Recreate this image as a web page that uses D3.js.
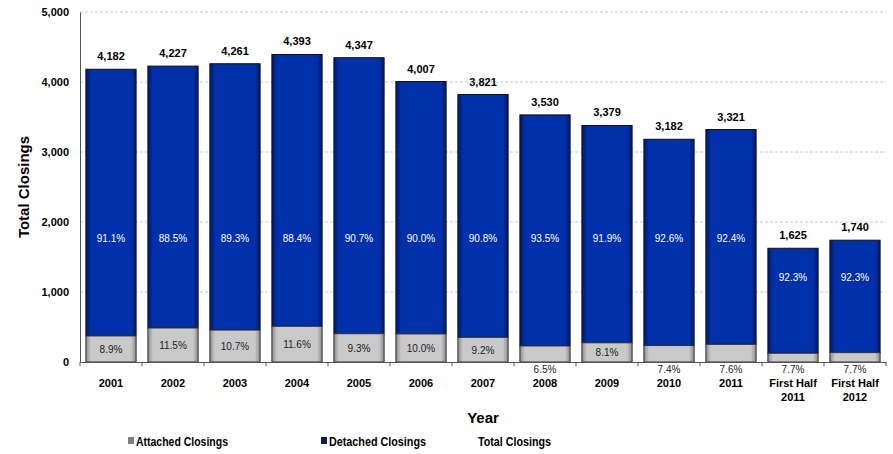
<!DOCTYPE html>
<html>
<head>
<meta charset="utf-8">
<script src="https://cdn.jsdelivr.net/npm/d3@7/dist/d3.min.js"></script>
<style>
  html, body { margin: 0; padding: 0; background: #fff; }
  svg text { font-family: "Liberation Sans", Arial, sans-serif; }
</style>
</head>
<body>
<svg id="chart" width="893" height="454"></svg>
<script>
// Closings by year: totals, attached counts and share labels
const categories = ["2001","2002","2003","2004","2005","2006","2007","2008","2009","2010","2011","First Half\n2011","First Half\n2012"];
const totalClosings = [4182, 4227, 4261, 4393, 4347, 4007, 3821, 3530, 3379, 3182, 3321, 1625, 1740];
const attachedClosings = [372, 486, 456, 510, 404, 401, 352, 229, 274, 235, 252, 125, 134];
const attachedShare = ["8.9%","11.5%","10.7%","11.6%","9.3%","10.0%","9.2%","6.5%","8.1%","7.4%","7.6%","7.7%","7.7%"];
const detachedShare = ["91.1%","88.5%","89.3%","88.4%","90.7%","90.0%","90.8%","93.5%","91.9%","92.6%","92.4%","92.3%","92.3%"];
const yTicks = [0, 1000, 2000, 3000, 4000, 5000];

const rows = categories.map((c, i) => ({
  cat: c,
  total: totalClosings[i],
  attached: attachedClosings[i],
  detached: totalClosings[i] - attachedClosings[i],
  aShare: attachedShare[i],
  dShare: detachedShare[i]
}));

const svg = d3.select("#chart");
const plotLeft = 80, plotRight = 886, plotTop = 12, plotBottom = 362;

const x = d3.scaleBand().domain(categories).range([plotLeft, plotRight]).paddingInner(0.19).paddingOuter(0.095);
const y = d3.scaleLinear().domain([0, 5000]).range([plotBottom, plotTop]);

// gradients giving the bars their shaded edges
const defs = svg.append("defs");
function edgeGradient(id, edge, mid) {
  const g = defs.append("linearGradient").attr("id", id).attr("x1", "0").attr("x2", "1").attr("y1", "0").attr("y2", "0");
  g.append("stop").attr("offset", "0").attr("stop-color", edge);
  g.append("stop").attr("offset", "0.1").attr("stop-color", mid);
  g.append("stop").attr("offset", "0.9").attr("stop-color", mid);
  g.append("stop").attr("offset", "1").attr("stop-color", edge);
}
edgeGradient("gBlue", "#001a6e", "#0030aa");
edgeGradient("gGrey", "#8a8a8a", "#c9c9c9");

// gridlines
svg.append("g").selectAll("line").data(yTicks.filter(t => t > 0)).join("line")
  .attr("x1", plotLeft).attr("x2", plotRight)
  .attr("y1", d => y(d)).attr("y2", d => y(d))
  .attr("stroke", "#c8c8c8").attr("stroke-dasharray", "3,2").attr("stroke-width", 1);

// y axis
const yAxis = svg.append("g").attr("transform", `translate(${plotLeft},0)`)
  .call(d3.axisLeft(y).tickValues(yTicks).tickSize(0).tickPadding(11).tickFormat(d3.format(",")));
yAxis.select(".domain").attr("stroke", "#555");
yAxis.selectAll("text").attr("font-size", 11).attr("font-weight", "bold").attr("fill", "#000");

// bars
const bars = svg.append("g").selectAll("g").data(rows).join("g");
bars.append("rect")
  .attr("x", d => x(d.cat)).attr("width", x.bandwidth())
  .attr("y", d => y(d.total)).attr("height", d => y(d.attached) - y(d.total))
  .attr("fill", "url(#gBlue)").attr("stroke", "#111").attr("stroke-width", 1);
bars.append("rect")
  .attr("x", d => x(d.cat)).attr("width", x.bandwidth())
  .attr("y", d => y(d.attached)).attr("height", d => y(0) - y(d.attached))
  .attr("fill", "url(#gGrey)").attr("stroke", "#333").attr("stroke-width", 1);

// x axis
const xAxis = svg.append("g").attr("transform", `translate(0,${plotBottom})`)
  .call(d3.axisBottom(x).tickSize(0).tickFormat(""));
xAxis.select(".domain").attr("stroke", "#555");
svg.append("g").selectAll("line").data(d3.range(categories.length + 1)).join("line")
  .attr("x1", i => plotLeft + i * x.step()).attr("x2", i => plotLeft + i * x.step())
  .attr("y1", plotBottom).attr("y2", plotBottom + 4).attr("stroke", "#555");

// category labels
svg.append("g").selectAll("text").data(rows).join("text")
  .attr("x", d => x(d.cat) + x.bandwidth() / 2).attr("y", 387)
  .attr("text-anchor", "middle").attr("font-size", 11).attr("font-weight", "bold")
  .each(function(d) {
    d.cat.split("\n").forEach((line, k) => {
      d3.select(this).append("tspan").attr("x", x(d.cat) + x.bandwidth() / 2).attr("dy", k ? 14 : 0).text(line);
    });
  });

// total labels above bars
svg.append("g").selectAll("text").data(rows).join("text")
  .attr("x", d => x(d.cat) + x.bandwidth() / 2).attr("y", d => y(d.total) - 9)
  .attr("text-anchor", "middle").attr("font-size", 11).attr("font-weight", "bold")
  .text(d => d3.format(",")(d.total));

// detached share labels inside blue segment
svg.append("g").selectAll("text").data(rows).join("text")
  .attr("x", d => x(d.cat) + x.bandwidth() / 2)
  .attr("y", d => (d.total > 3000 ? y(1770) : y(1220)) + 4)
  .attr("text-anchor", "middle").attr("font-size", 10).attr("fill", "#fff")
  .text(d => d.dShare);

// attached share labels: inside grey segment when it fits, otherwise below the axis
svg.append("g").selectAll("text").data(rows).join("text")
  .attr("x", d => x(d.cat) + x.bandwidth() / 2)
  .attr("y", d => d.attached > 260 && d.cat !== "2011" ? y(d.attached / 2) + 4 : plotBottom + 11)
  .attr("text-anchor", "middle").attr("font-size", 10).attr("fill", "#222")
  .text(d => d.aShare);

// axis titles
svg.append("text").attr("x", 483).attr("y", 423).attr("text-anchor", "middle")
  .attr("font-size", 15).attr("font-weight", "bold").text("Year");
svg.append("text").attr("transform", "translate(29,187) rotate(-90)").attr("text-anchor", "middle")
  .attr("font-size", 15).attr("font-weight", "bold").text("Total Closings");

// legend
const legend = [
  { label: "Attached Closings", color: "#7f7f7f", x: 128, w: 92 },
  { label: "Detached Closings", color: "#0b1a5a", x: 321, w: 97 },
  { label: "Total Closings", color: null, x: 478, w: 73 }
];
const lg = svg.append("g").selectAll("g").data(legend).join("g");
lg.filter(d => d.color).append("rect")
  .attr("x", d => d.x).attr("y", 437).attr("width", 6).attr("height", 7).attr("fill", d => d.color);
lg.append("text")
  .attr("x", d => d.color ? d.x + 8 : d.x).attr("y", 445.5)
  .attr("font-size", 12).attr("font-weight", "bold")
  .attr("textLength", d => d.w).attr("lengthAdjust", "spacingAndGlyphs")
  .text(d => d.label);
</script>
</body>
</html>
